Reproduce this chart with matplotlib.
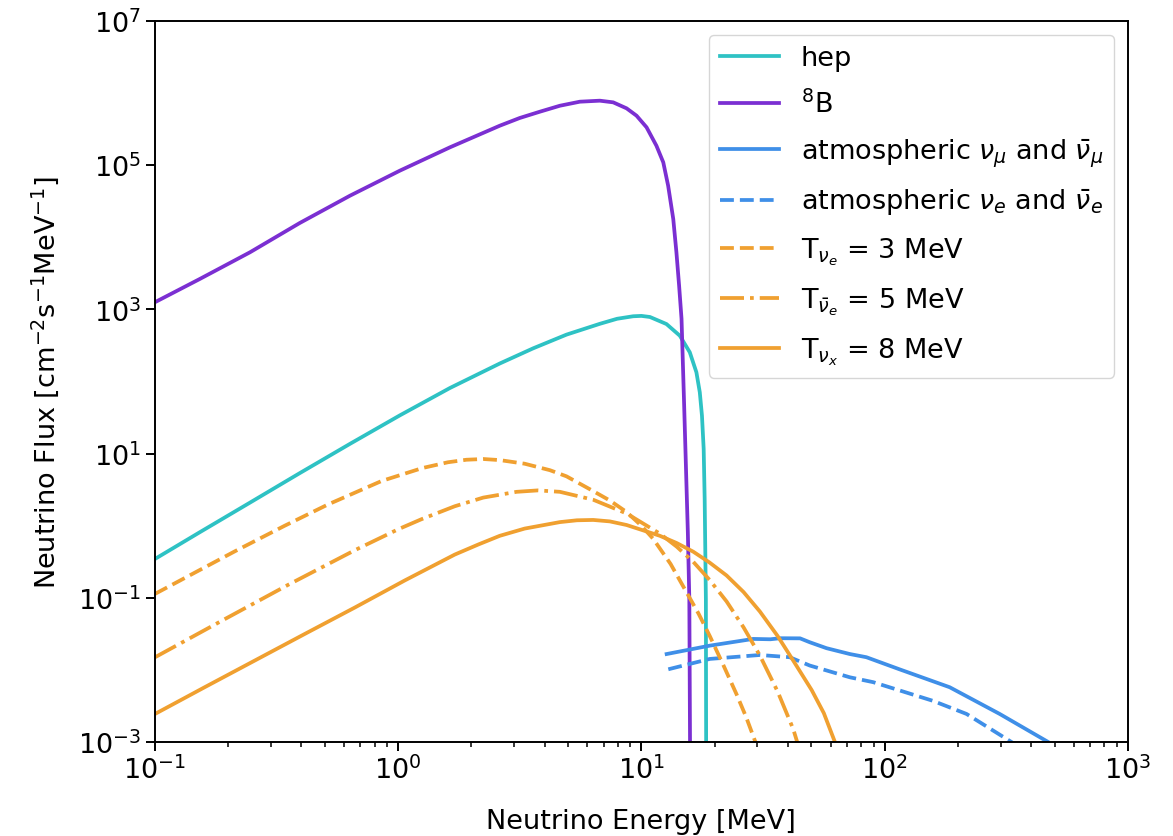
import matplotlib
matplotlib.use("Agg")
import matplotlib.pyplot as plt
from matplotlib.ticker import LogLocator, NullFormatter, NullLocator

# solar neutrinos (MeV, cm^-2 s^-1 MeV^-1)
b8_E = [0.1, 0.153, 0.246, 0.394, 0.634, 1.016, 1.633, 2.618, 3.162, 3.824,
        4.624, 5.585, 6.745, 7.656, 8.69, 9.55, 10.50, 11.53, 12.30, 12.88,
        13.52, 13.93, 14.29, 14.62, 14.96, 15.24, 15.52, 15.74, 15.95]
b8_flux = [1256, 2642, 6194, 15780, 37760, 83950, 1.77e5, 3.532e5, 4.519e5,
           5.521e5, 6.683e5, 7.603e5, 7.852e5, 7.447e5, 6.152e5, 4.864e5,
           3.357e5, 1.862e5, 1.096e5, 5.2e4, 1.795e4, 6194, 2133, 741, 57.5,
           6.76, 0.813, 0.0955, 1e-5]

hep_E = [0.1, 0.1531, 0.246, 0.3945, 0.6339, 1.016, 1.633, 2.618, 3.589,
         4.92, 6.745, 7.943, 9.25, 10.0, 10.84, 12.68, 14.39, 15.81, 16.83,
         17.38, 17.74, 18.03, 18.20, 18.41, 18.5]
hep_flux = [0.345, 0.8128, 2.089, 5.370, 13.65, 33.88, 81.28, 177.8, 288.4,
            446.7, 631.0, 741.3, 803.5, 812.8, 785.2, 626.6, 431.5, 254.1,
            134.3, 70.8, 33.6, 11.6, 2.34, 0.0962, 1e-5]

# atmospheric neutrinos
atm_mu_E = [12.7, 19.1, 28.8, 33.9, 37.2, 44.9, 49.2, 57.7, 71.9, 84.1,
            115, 185, 297, 470, 501]
atm_mu_flux = [0.0166, 0.0217, 0.0269, 0.0266, 0.0275, 0.0274, 0.0242, 0.020,
               0.0166, 0.015, 0.0102, 0.00575, 0.00245, 0.001, 0.00087]

atm_e_E = [12.9, 19.1, 30.7, 40.7, 49.2, 71.9, 89.7, 158, 217, 332, 355]
atm_e_flux = [0.0102, 0.0142, 0.0161, 0.015, 0.0115, 0.0079, 0.00676,
              0.00372, 0.00245, 0.001, 0.00087]

# supernova spectra
sn3_E = [0.1, 0.1371, 0.2133, 0.342, 0.5152, 0.8551, 1.259, 1.603, 1.91,
         2.239, 2.618, 3.311, 4.207, 4.92, 6.339, 7.413, 8.69, 10.0, 11.17,
         13.18, 15.31, 17.18, 19.10, 21.63, 24.55, 26.92, 29.65]
sn3_flux = [0.113, 0.1995, 0.4416, 1.0, 1.972, 4.169, 6.310, 7.586, 8.222,
            8.414, 8.128, 7.244, 5.888, 4.842, 3.020, 2.239, 1.549, 1.0,
            0.6607, 0.2951, 0.1202, 0.06026, 0.02951, 0.01202, 0.004677,
            0.002239, 0.000933]

sn5_E = [0.1, 0.188, 0.3532, 0.6637, 1.0, 1.247, 1.71, 2.239, 3.069, 3.758,
         4.624, 6.339, 8.69, 11.91, 13.96, 16.33, 19.05, 22.39, 26.3, 30.69,
         36.31, 42.07, 44.16]
sn5_flux = [0.01493, 0.04786, 0.1514, 0.4571, 0.8913, 1.230, 1.862, 2.455,
            2.951, 3.090, 2.951, 2.291, 1.479, 0.7762, 0.5129, 0.3162, 0.1778,
            0.08913, 0.0389, 0.01585, 0.005012, 0.001514, 0.000891]

sn8_E = [0.1, 0.1603, 0.2576, 0.414, 0.6637, 1.064, 1.71, 2.138, 2.618,
         3.311, 4.624, 5.433, 6.339, 7.413, 8.69, 11.91, 13.96, 16.33, 19.05,
         22.39, 26.3, 30.69, 36.31, 42.07, 50.12, 56.23, 63.1]
sn8_flux = [0.002443, 0.005754, 0.01349, 0.03162, 0.07328, 0.1738, 0.398,
            0.5495, 0.7244, 0.912, 1.122, 1.189, 1.202, 1.148, 1.023, 0.7244,
            0.5754, 0.4365, 0.309, 0.2042, 0.1202, 0.06457, 0.02951, 0.01349,
            0.005248, 0.002512, 0.000912]

plt.rcParams['font.size'] = 19.5
plt.rcParams['mathtext.fontset'] = 'dejavusans'

fig = plt.figure(figsize=(11.73, 8.37), dpi=100)
ax = fig.add_axes([0.132, 0.1123, 0.8296, 0.8614])

lw = 2.7
cyan = '#2ec2c4'
purple = '#7b2fd2'
blue = '#3f8fe8'
orange = '#f0a030'

ax.plot(hep_E, hep_flux, color=cyan, lw=lw, label='hep')
ax.plot(b8_E, b8_flux, color=purple, lw=lw, label=r'$^8$B')
ax.plot(atm_mu_E, atm_mu_flux, color=blue, lw=lw,
        label=r'atmospheric $\nu_\mu$ and $\bar{\nu}_\mu$')
ax.plot(atm_e_E, atm_e_flux, color=blue, lw=lw, ls='--',
        label=r'atmospheric $\nu_e$ and $\bar{\nu}_e$')
ax.plot(sn3_E, sn3_flux, color=orange, lw=lw, ls='--',
        label=r'T$_{\nu_e}$ = 3 MeV')
ax.plot(sn5_E, sn5_flux, color=orange, lw=lw, ls='-.',
        label=r'T$_{\bar{\nu}_e}$ = 5 MeV')
ax.plot(sn8_E, sn8_flux, color=orange, lw=lw,
        label=r'T$_{\nu_x}$ = 8 MeV')

ax.set_xscale('log')
ax.set_yscale('log')
ax.set_xlim(1e-1, 1e3)
ax.set_ylim(1e-3, 1e7)
ax.set_yticks([1e-3, 1e-1, 1e1, 1e3, 1e5, 1e7])
ax.yaxis.set_minor_locator(NullLocator())
ax.xaxis.set_minor_locator(LogLocator(base=10, subs=range(2, 10), numticks=20))
ax.xaxis.set_minor_formatter(NullFormatter())

ax.tick_params(which='major', length=6.3, width=1.4)
ax.tick_params(which='minor', length=3.6, width=1.1)
for s in ax.spines.values():
    s.set_linewidth(1.4)

ax.set_xlabel('Neutrino Energy [MeV]', labelpad=17)
ax.set_ylabel(r'Neutrino Flux [cm$^{-2}$s$^{-1}$MeV$^{-1}$]', labelpad=12)

ax.legend(loc='upper right', handlelength=2.2, labelspacing=0.67)

fig.savefig('out.png', dpi=100)
